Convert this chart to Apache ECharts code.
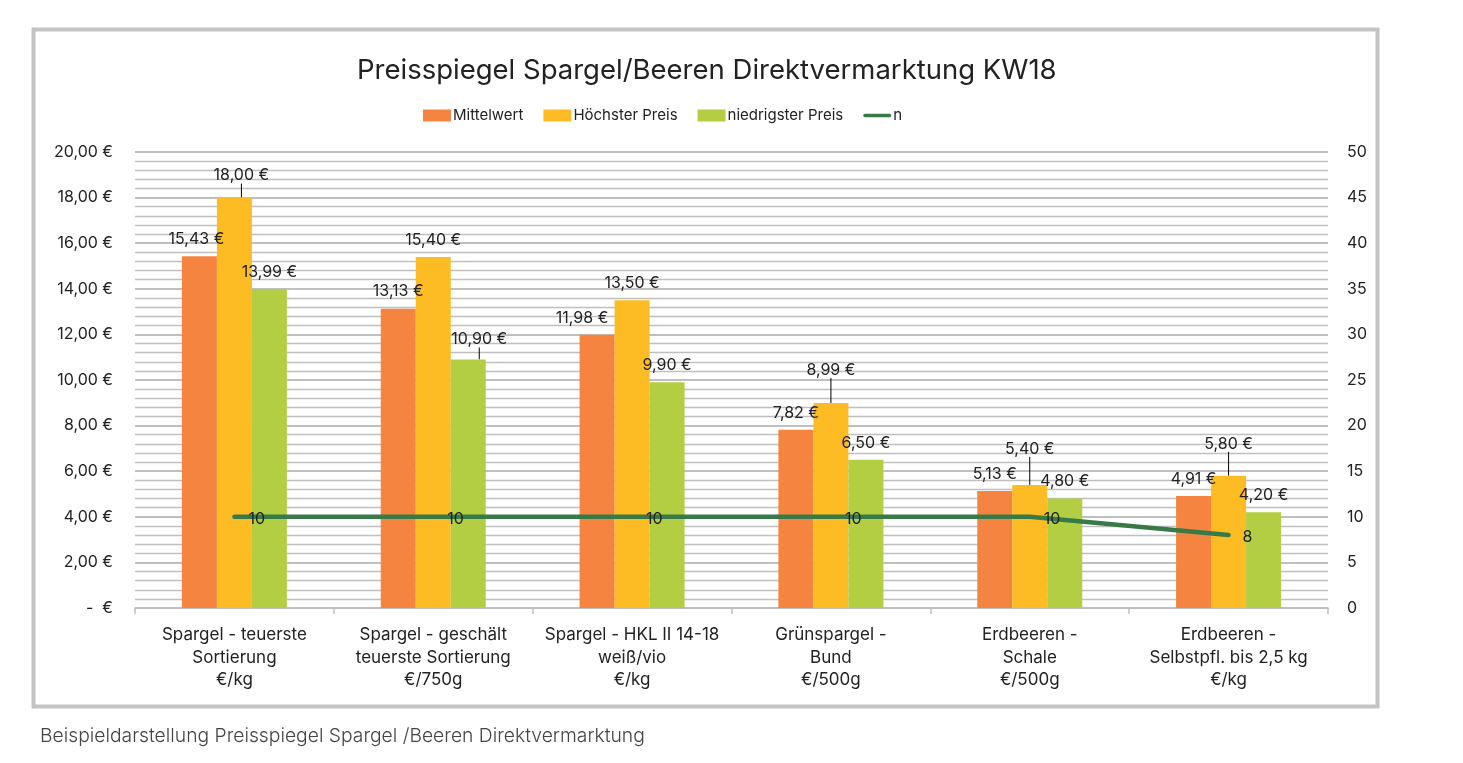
<!DOCTYPE html>
<html>
<head>
<meta charset="utf-8">
<script src="https://cdn.jsdelivr.net/npm/echarts@6/dist/echarts.min.js"></script>
<style>
html,body{margin:0;padding:0;background:#fff;}
#chart{width:1463px;height:763px;}
</style>
</head>
<body>
<div id="chart"></div>
<script>
// Preisspiegel Spargel/Beeren

var categories = [
	'Spargel - teuerste\nSortierung\n€/kg',
	'Spargel - geschält\nteuerste Sortierung\n€/750g',
	'Spargel - HKL II 14-18\nweiß/vio\n€/kg',
	'Grünspargel -\nBund\n€/500g',
	'Erdbeeren -\nSchale\n€/500g',
	'Erdbeeren -\nSelbstpfl. bis 2,5 kg\n€/kg'
];
var mittelwert = [15.43, 13.13, 11.98, 7.82, 5.13, 4.91];
var hoechsterPreis = [18.00, 15.40, 13.50, 8.99, 5.40, 5.80];
var niedrigsterPreis = [13.99, 10.90, 9.90, 6.50, 4.80, 4.20];
var anzahl = [10, 10, 10, 10, 10, 8];

var COLOR = {
	MITTEL: '#F4843F',
	HOCH: '#FDBC24',
	NIEDRIG: '#B3CE43',
	N: '#377A47',
	GRID: '#BFBFBF',
	TEXT: '#222222'
};

var FONT = 'Inter';

// label shifts (px), and which labels get a leader line
var shiftMittel = [[-3, 0], [0, 0], [-15, 0], [0, 0], [0, 0], [0, 0]];
var shiftHoch = [[7, -5], [0, 0], [0, 0], [0, -16], [0, -19], [0, -15]];
var shiftNiedrig = [[0, 0], [11, -3], [0, 0], [0, 0], [0, 0], [0, 0]];
var lineHoch = [true, false, false, true, true, true];
var lineNiedrig = [false, true, false, false, false, false];

function euro(v) {
	if (v === 0) return '-  €';
	return v.toFixed(2).replace('.', ',') + ' €';
}

function withLines(values, flags) {
	return values.map(function (v, i) {
		return {value: v, labelLine: {show: flags[i]}};
	});
}

function barSeries(name, color, data, shift, dx) {
	return {
		name: name,
		type: 'bar',
		barWidth: 35,
		barGap: '0%',
		itemStyle: {color: color},
		label: {
			show: true,
			position: 'top',
			distance: 9,
			offset: [dx, 0],
			fontFamily: FONT,
			fontSize: 16,
			color: COLOR.TEXT,
			formatter: function (p) { return euro(p.value); }
		},
		labelLine: {show: false, lineStyle: {color: '#000', width: 1}},
		labelLayout: function (p) {
			var s = shift[p.dataIndex];
			return {dx: s[0], dy: s[1]};
		},
		data: data
	};
}

var myChart = echarts.init(document.getElementById('chart'));
myChart.setOption({
	animation: false,
	title: {
		text: 'Preisspiegel Spargel/Beeren Direktvermarktung KW18',
		left: 352,
		top: 52,
		textStyle: {fontFamily: FONT, fontSize: 27.5, fontWeight: 'normal', color: COLOR.TEXT}
	},
	legend: {
		top: 103,
		left: 418,
		itemWidth: 28,
		itemHeight: 12,
		itemGap: 20,
		textStyle: {fontFamily: FONT, fontSize: 15, color: COLOR.TEXT, padding: [0, 0, 0, -3]},
		data: [
			{name: 'Mittelwert', icon: 'rect'},
			{name: 'Höchster Preis', icon: 'rect'},
			{name: 'niedrigster Preis', icon: 'rect'},
			{name: 'n', icon: 'path://M2,4 L29,4 A2,2 0 0 1 29,8 L2,8 A2,2 0 0 1 2,4 Z', itemStyle: {color: COLOR.N}}
		]
	},
	grid: {left: 135, right: 135, top: 152, bottom: 155},
	graphic: [
		{
			type: 'rect',
			shape: {x: 33.5, y: 29.5, width: 1344, height: 677},
			style: {fill: 'none', stroke: '#C4C4C4', lineWidth: 4},
			silent: true
		},
		{
			type: 'text',
			left: 40,
			top: 727,
			style: {text: 'Beispieldarstellung Preisspiegel Spargel /Beeren Direktvermarktung', fontFamily: FONT, fontSize: 19.3, fontWeight: 300, fill: '#444'}
		}
	],
	xAxis: {
		type: 'category',
		data: categories,
		axisLine: {lineStyle: {color: COLOR.GRID, width: 1.5}},
		axisTick: {show: true, length: 6, lineStyle: {color: COLOR.GRID, width: 1.5}},
		axisLabel: {
			margin: 16,
			interval: 0,
			fontFamily: FONT,
			fontSize: 17,
			lineHeight: 22.5,
			color: COLOR.TEXT
		}
	},
	yAxis: [
		{
			type: 'value',
			min: 0,
			max: 20,
			interval: 2,
			axisLine: {show: false},
			axisTick: {show: false},
			axisLabel: {margin: 22, fontFamily: FONT, fontSize: 16, color: COLOR.TEXT, formatter: euro},
			splitLine: {lineStyle: {color: COLOR.GRID, width: 1.8}},
			minorTick: {show: false, splitNumber: 5},
			minorSplitLine: {show: true, lineStyle: {color: COLOR.GRID, width: 1.3}}
		},
		{
			type: 'value',
			min: 0,
			max: 50,
			interval: 5,
			axisLine: {show: false},
			axisTick: {show: false},
			splitLine: {show: false},
			axisLabel: {margin: 19, fontFamily: FONT, fontSize: 16, color: COLOR.TEXT}
		}
	],
	series: [
		barSeries('Mittelwert', COLOR.MITTEL, mittelwert, shiftMittel, 0),
		barSeries('Höchster Preis', COLOR.HOCH, withLines(hoechsterPreis, lineHoch), shiftHoch, 0),
		barSeries('niedrigster Preis', COLOR.NIEDRIG, withLines(niedrigsterPreis, lineNiedrig), shiftNiedrig, 4),
		{
			name: 'n',
			type: 'line',
			yAxisIndex: 1,
			symbol: 'circle',
			symbolSize: 2,
			showSymbol: true,
			z: 5,
			lineStyle: {color: COLOR.N, width: 4.5, cap: 'round'},
			itemStyle: {color: COLOR.N},
			label: {
				show: true,
				position: 'right',
				distance: 13,
				offset: [0, 2],
				fontFamily: FONT,
				fontSize: 16,
				color: COLOR.TEXT
			},
			data: anzahl
		}
	]
});
</script>
</body>
</html>
